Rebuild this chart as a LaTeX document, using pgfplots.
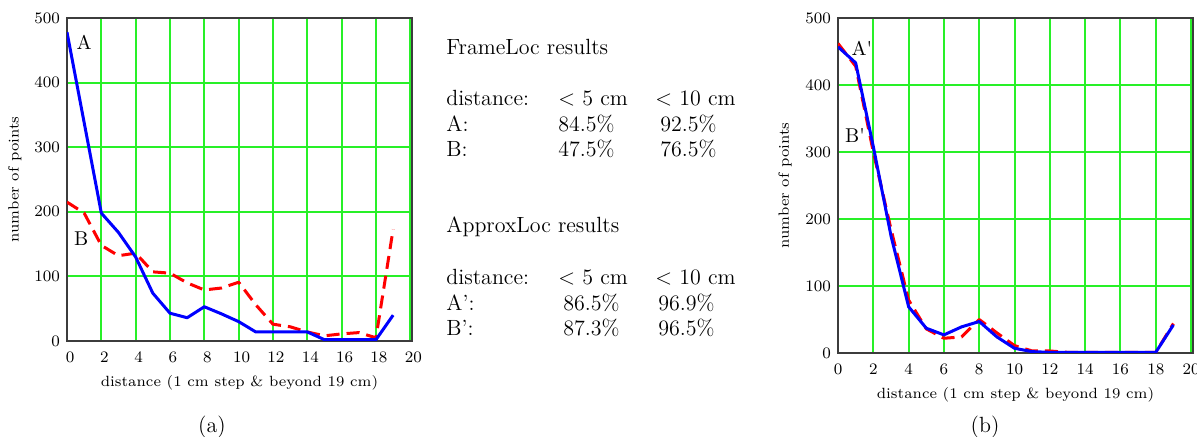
\documentclass[border=0pt]{standalone}
\usepackage{pgfplots}
\pgfplotsset{compat=1.18}
\definecolor{gridgreen}{RGB}{40,240,40}
\definecolor{framegray}{RGB}{60,60,60}
\definecolor{lineblue}{RGB}{0,0,255}
\definecolor{linered}{RGB}{255,0,0}

\pgfplotstableread{
x A B
0 478 215
1 338 198
2 198 148
3 168 132
4 130 136
5 74 107
6 43 105
7 36 90
8 53 79
9 42 82
10 30 91
11 14 56
12 14 26
13 14 22
14 14 14
15 2 8
16 2 11
17 2 13
18 2 5
19 40 173
}\tableA

\pgfplotstableread{
x A B
0 457 462
1 433 428
2 308 300
3 175 185
4 69 79
5 37 36
6 27 22
7 39 24
8 47 50
9 24 30
10 7 11
11 2 3
12 1 3
13 1 1
14 1 1
15 1 1
16 1 1
17 1 1
18 1 1
19 42 44
}\tableB

\pgfplotsset{myax/.style={
  scale only axis, xmin=0, ymin=0, ymax=500,
  xtick={0,2,...,20}, ytick={0,100,...,500},
  grid=major, major grid style={gridgreen, line width=1pt},
  major tick length=0pt,
  axis line style={framegray, line width=1pt},
  tick label style={font=\fontsize{7.8}{9}\selectfont},
  xticklabel style={yshift=-2pt},
  label style={font=\fontsize{7.4}{9}\selectfont},
  xlabel={distance (1 cm step \& beyond 19 cm)},
  ylabel={number of points},
  blueline/.style={lineblue, line width=1.5pt, line join=round},
  redline/.style={linered, line width=1.5pt, dash pattern=on 6.5pt off 3.5pt, line join=round},
}}

\begin{document}
\begin{tikzpicture}
\path[use as bounding box] (0,0) rectangle (598.5pt,218.5pt);

% (a)
\begin{axis}[myax, at={(33.5pt,48pt)}, anchor=south west,
  width=172.5pt, height=161.5pt, xmax=20.1,
  xticklabel style={xshift=1.5pt},
  xlabel style={at={(axis description cs:0.5,-0.130)}, anchor=center},
  ylabel style={at={(axis description cs:-0.151,0.5)}, anchor=center}]
\addplot[redline] table[x=x,y=B] {\tableA};
\addplot[blueline] table[x=x,y=A] {\tableA};
\node[font=\fontsize{10}{12}\selectfont] at (axis cs:1.0,463) {A};
\node[font=\fontsize{10}{12}\selectfont] at (axis cs:0.83,159) {B};
\end{axis}

% (b)
\begin{axis}[myax, at={(419pt,42pt)}, anchor=south west,
  width=177.5pt, height=167.5pt, xmax=20.11,
  xlabel style={at={(axis description cs:0.5,-0.125)}, anchor=center},
  ylabel style={at={(axis description cs:-0.149,0.5)}, anchor=center}]
\addplot[redline] table[x=x,y=B] {\tableB};
\addplot[blueline] table[x=x,y=A] {\tableB};
\node[font=\fontsize{10}{12}\selectfont] at (axis cs:1.36,455) {A\textquotesingle};
\node[font=\fontsize{10}{12}\selectfont] at (axis cs:0.96,325) {B\textquotesingle};
\end{axis}

% text block
\begin{scope}[every node/.style={anchor=base west, inner sep=0pt, font=\fontsize{11}{13}\selectfont}]
\node at (223pt,191pt) {FrameLoc results};
\node at (223pt,165.5pt) {distance:};
\node at (279pt,165.5pt) {\textless{} 5 cm};
\node at (327.5pt,165.5pt) {\textless{} 10 cm};
\node at (223pt,152.65pt) {A:};
\node at (279pt,152.65pt) {84.5\%};
\node at (330pt,152.65pt) {92.5\%};
\node at (223pt,140.15pt) {B:};
\node at (279pt,140.15pt) {47.5\%};
\node at (330pt,140.15pt) {76.5\%};
\node at (223pt,102pt) {ApproxLoc results};
\node at (223pt,76pt) {distance:};
\node at (279pt,76pt) {\textless{} 5 cm};
\node at (327.5pt,76pt) {\textless{} 10 cm};
\node at (223pt,63.15pt) {A’:};
\node at (281.5pt,63.15pt) {86.5\%};
\node at (329pt,63.15pt) {96.9\%};
\node at (223pt,50.5pt) {B’:};
\node at (281.5pt,50.5pt) {87.3\%};
\node at (329pt,50.5pt) {96.5\%};
\end{scope}

% captions
\node[font=\fontsize{11}{13}\selectfont] at (106pt,5pt) {(a)};
\node[font=\fontsize{11}{13}\selectfont] at (492.5pt,5pt) {(b)};
\end{tikzpicture}
\end{document}
